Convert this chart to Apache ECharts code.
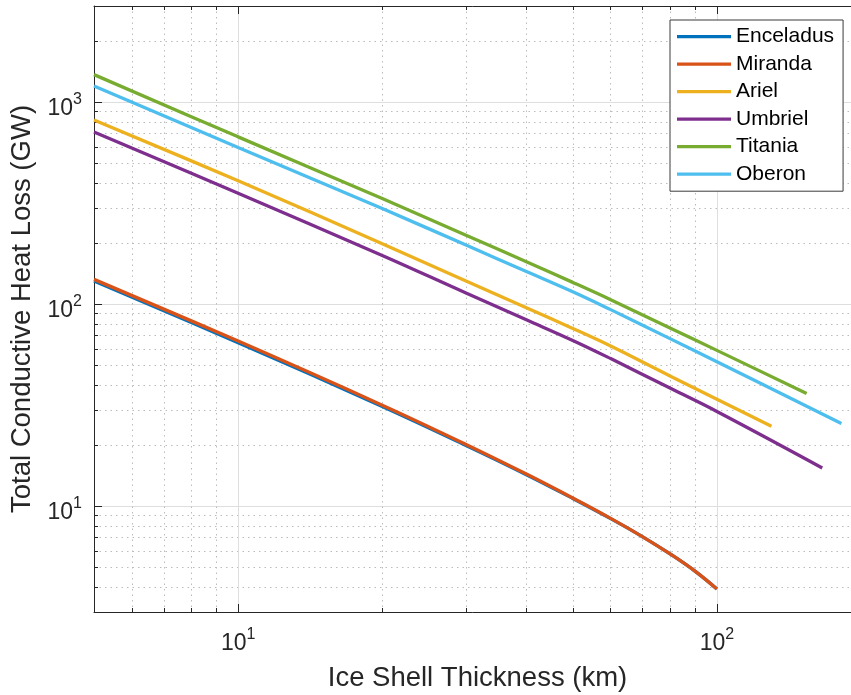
<!DOCTYPE html>
<html>
<head>
<meta charset="utf-8">
<title>Total Conductive Heat Loss</title>
<script src="https://cdn.jsdelivr.net/npm/echarts@6/dist/echarts.min.js"></script>
<style>
  html, body { margin: 0; padding: 0; background: #fff; }
  #chart { width: 851px; height: 695px; }
</style>
</head>
<body>
<div id="chart"></div>
<script>
// ice shell thickness (km) / heat loss (GW)
const moons = ['Enceladus', 'Miranda', 'Ariel', 'Umbriel', 'Titania', 'Oberon']
const moonColors = ['#0072BD', '#D95319', '#EDB120', '#7E2F8E', '#77AC30', '#4DBEEE']

const thickEnceladus = [5, 10, 20, 30, 40, 50, 60, 70, 80, 90, 100]
const heatEnceladus = [130.5, 64.6, 31.2, 19.95, 14.35, 10.95, 8.7, 7.07, 5.8, 4.78, 3.9]

const thickMiranda = [5, 10, 20, 30, 40, 50, 60, 70, 80, 90, 100]
const heatMiranda = [133, 65.8, 31.7, 20.2, 14.45, 11.0, 8.72, 7.07, 5.8, 4.78, 3.9]

const thickAriel = [5, 10, 20, 30, 40, 50, 60, 80, 100, 130]
const heatAriel = [818, 409, 199.6, 130, 96.2, 76, 62.2, 44.1, 33.9, 24.9]

const thickUmbriel = [5, 10, 20, 30, 40, 50, 60, 80, 100, 166]
const heatUmbriel = [713, 355, 174.7, 113.5, 83.9, 66.3, 53.9, 38.4, 29.5, 15.5]

const thickTitania = [5, 10, 20, 30, 40, 50, 60, 80, 100, 154]
const heatTitania = [1372, 675, 334, 219.5, 162.5, 128.5, 105.5, 76.2, 59.2, 36.2]

const thickOberon = [5, 10, 20, 30, 40, 50, 60, 80, 100, 182]
const heatOberon = [1206, 598, 298, 196, 145.5, 115.5, 94.2, 67.5, 52, 25.7]

// axis ticks
const xMajor = [10, 100]
const xMinor = [6, 7, 8, 9, 20, 30, 40, 50, 60, 70, 80, 90]
const yMajor = [10, 100, 1000]
const yMinor = [4, 5, 6, 7, 8, 9, 20, 30, 40, 50, 60, 70, 80, 90, 200, 300, 400, 500, 600, 700, 800, 900, 2000]

const thick = [thickEnceladus, thickMiranda, thickAriel, thickUmbriel, thickTitania, thickOberon]
const heat = [heatEnceladus, heatMiranda, heatAriel, heatUmbriel, heatTitania, heatOberon]

const font = 'Liberation Sans'
const ink = '#262626'

const powLabel = (v) => '{b|10}{s|' + Math.round(Math.log10(v)) + '}'
const rich = {
  b: { fontSize: 23, fontFamily: font, color: ink, padding: [12, 0, 0, 0] },
  s: { fontSize: 16, fontFamily: font, color: ink, padding: [0, 0, 5, 0] }
}

function logAxis (min, max, pos, opts) {
  return Object.assign({
    type: 'log',
    logBase: 10,
    min: min,
    max: max,
    position: pos,
    axisLine: { show: false },
    axisTick: { show: false },
    axisLabel: { show: false },
    splitLine: { show: false }
  }, opts)
}

const majorGrid = { show: true, lineStyle: { color: '#dedede', width: 1 } }
const minorGrid = { show: true, lineStyle: { color: '#bcbcbc', width: 1, type: [1.5, 4] } }
const axisLine = { show: true, onZero: false, lineStyle: { color: ink, width: 1 } }

const series = moons.map((name, i) => ({
  name: name,
  type: 'line',
  xAxisIndex: 0,
  yAxisIndex: 0,
  data: thick[i].map((x, j) => [x, heat[i][j]]),
  symbol: 'none',
  smooth: 0.4,
  lineStyle: { color: moonColors[i], width: 3.3 },
  itemStyle: { color: moonColors[i] },
  emphasis: { disabled: true },
  z: 10 + i
}))

const myChart = echarts.init(document.getElementById('chart'))
const option = {
  animation: false,
  backgroundColor: '#fff',
  grid: { left: 94, right: -10, top: 6, bottom: 83, outerBoundsMode: 'none' },
  legend: {
    orient: 'vertical',
    left: 670,
    top: 20,
    data: moons,
    icon: 'rect',
    itemWidth: 54,
    itemHeight: 3.3,
    itemGap: 5.5,
    padding: [5.7, 9, 6, 7],
    backgroundColor: '#fff',
    borderColor: '#3a3a3a',
    borderWidth: 1,
    borderRadius: 0,
    textStyle: { fontSize: 21, fontFamily: font, color: '#000', lineHeight: 22 }
  },
  xAxis: [
    logAxis(5, 200, 'bottom', {
      axisLine: axisLine,
      axisTick: { show: true, inside: true, length: 8, customValues: xMajor, lineStyle: { color: ink } },
      axisLabel: { show: true, customValues: xMajor, margin: 8, formatter: powLabel, rich: rich },
      splitLine: majorGrid,
      name: 'Ice Shell Thickness (km)',
      nameLocation: 'middle',
      nameGap: 52,
      nameTextStyle: { fontSize: 27.5, fontFamily: font, color: ink }
    }),
    logAxis(5, 200, 'bottom', {
      axisTick: { show: true, inside: true, length: 4, customValues: xMinor, lineStyle: { color: ink } },
      splitLine: minorGrid
    }),
    logAxis(5, 200, 'top', {
      axisLine: axisLine,
      axisTick: { show: true, inside: true, length: 8, customValues: xMajor, lineStyle: { color: ink } }
    }),
    logAxis(5, 200, 'top', {
      axisTick: { show: true, inside: true, length: 4, customValues: xMinor, lineStyle: { color: ink } }
    })
  ],
  yAxis: [
    logAxis(3, 3000, 'left', {
      axisLine: axisLine,
      axisTick: { show: true, inside: true, length: 8, customValues: yMajor, lineStyle: { color: ink } },
      axisLabel: { show: true, customValues: yMajor, margin: 12, formatter: powLabel, rich: rich },
      splitLine: majorGrid,
      name: 'Total Conductive Heat Loss (GW)',
      nameLocation: 'middle',
      nameGap: 44,
      nameTextStyle: { fontSize: 27.5, fontFamily: font, color: ink }
    }),
    logAxis(3, 3000, 'left', {
      axisTick: { show: true, inside: true, length: 4, customValues: yMinor, lineStyle: { color: ink } },
      splitLine: minorGrid
    })
  ],
  series: series
}
myChart.setOption(option)
</script>
</body>
</html>
